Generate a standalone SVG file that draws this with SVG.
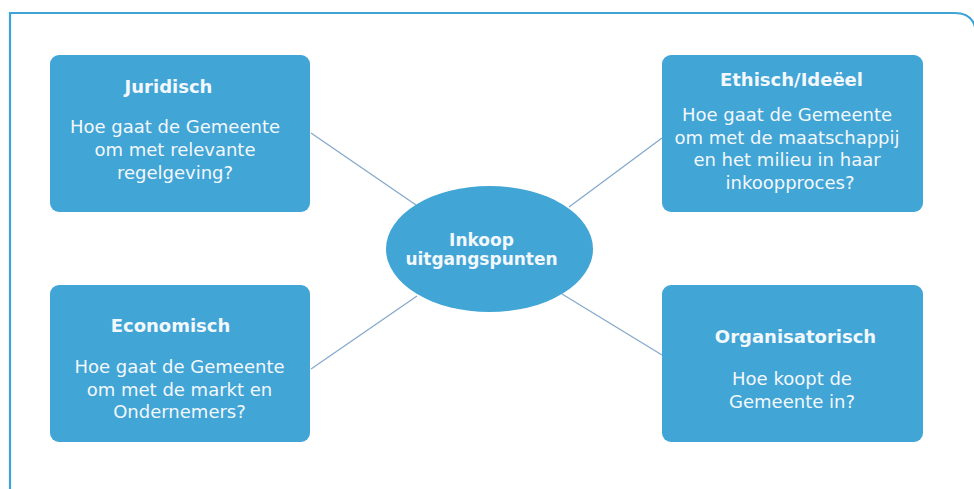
<svg xmlns="http://www.w3.org/2000/svg" width="974" height="489" viewBox="0 0 974 489">
<style>
.box{fill:#41a5d6}
.frame{fill:none;stroke:#3ea4d4;stroke-width:2.2}
.conn{stroke:#86a9cb;stroke-width:1.3;fill:none}
text{font-family:"DejaVu Sans",Verdana,sans-serif;fill:#f3f8fc;text-anchor:middle}
.t{font-size:18px;font-weight:bold}
.b{font-size:18px}
.c{font-size:17px;font-weight:bold}
</style>
<rect width="974" height="489" fill="#ffffff"/>
<path class="frame" d="M10,495 V13 H954 Q976,13 976,35 V495"/>
<g id="connectors">
<line class="conn" x1="311" y1="133" x2="416" y2="205"/>
<line class="conn" x1="569" y1="207" x2="662" y2="138"/>
<line class="conn" x1="311" y1="369" x2="417" y2="296"/>
<line class="conn" x1="562" y1="294" x2="662" y2="355"/>
</g>
<g id="center">
<ellipse class="box" cx="489.5" cy="249" rx="103.5" ry="63"/>
<text class="c" x="481.5" y="246">Inkoop</text>
<text class="c" x="481.5" y="264.5">uitgangspunten</text>
</g>
<g id="juridisch">
<rect class="box" x="50" y="55" width="260" height="157" rx="9"/>
<text class="t" x="168.5" y="93">Juridisch</text>
<text class="b" x="175" y="133">Hoe gaat de Gemeente</text>
<text class="b" x="175" y="156">om met relevante</text>
<text class="b" x="175" y="179">regelgeving?</text>
</g>
<g id="ethisch">
<rect class="box" x="662" y="55" width="261" height="157" rx="9"/>
<text class="t" x="791.5" y="86">Ethisch/Ideëel</text>
<text class="b" x="787" y="121">Hoe gaat de Gemeente</text>
<text class="b" x="787" y="143.5">om met de maatschappij</text>
<text class="b" x="787" y="166">en het milieu in haar</text>
<text class="b" x="790" y="188.5">inkoopproces?</text>
</g>
<g id="economisch">
<rect class="box" x="50" y="285" width="260" height="157" rx="9"/>
<text class="t" x="170.5" y="332">Economisch</text>
<text class="b" x="179.5" y="373">Hoe gaat de Gemeente</text>
<text class="b" x="179.5" y="395.5">om met de markt en</text>
<text class="b" x="179.5" y="418">Ondernemers?</text>
</g>
<g id="organisatorisch">
<rect class="box" x="662" y="285" width="261" height="157" rx="9"/>
<text class="t" x="795.5" y="343">Organisatorisch</text>
<text class="b" x="792" y="385">Hoe koopt de</text>
<text class="b" x="792" y="407.5">Gemeente in?</text>
</g>
</svg>
